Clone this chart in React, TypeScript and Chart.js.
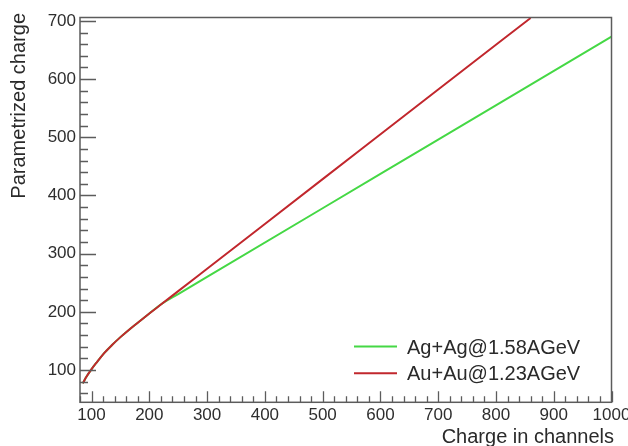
import React, { useEffect, useRef } from "react";
import { Chart, registerables } from "chart.js";

Chart.register(...registerables);

// Shared low-charge part (both systems coincide)
const commonX = [85, 90, 100, 110, 120, 135, 150, 165, 180, 200, 220];
const commonY = [77, 86.5, 101.5, 114.5, 127, 142.5, 156.5, 169.3, 181.3, 197.1, 212.5];
// Ag+Ag branch
const agX = [250, 300, 500, 700, 1000];
const agY = [230.5, 260, 378, 496, 673];
// Au+Au branch
const auX = [250, 300, 500, 700, 860];
const auY = [235.5, 274, 428, 582, 705];

const seriesLabels = ["Ag+Ag@1.58AGeV", "Au+Au@1.23AGeV"];
const seriesColors = ["#45d845", "#c1272d"];

const xTicks = [100, 200, 300, 400, 500, 600, 700, 800, 900, 1000];
const yTicks = [100, 200, 300, 400, 500, 600, 700];

const xTitle = "Charge in channels";
const yTitle = "Parametrized charge";

const FONT = "'Liberation Sans', Arial, Helvetica, sans-serif";

function toPoints(xs: number[], ys: number[]) {
  return xs.map((x, i) => ({ x, y: ys[i] }));
}

const rootDecor = {
  id: "rootDecor",
  afterDatasetsDraw(chart: any) {
    const { ctx, chartArea: a, scales } = chart;
    const xs = scales.x;
    const ys = scales.y;
    ctx.save();
    ctx.strokeStyle = "#5c5c5c";
    ctx.lineWidth = 1.5;
    ctx.strokeRect(a.left, a.top, a.right - a.left, a.bottom - a.top);
    ctx.lineWidth = 1.3;
    ctx.beginPath();
    for (let v = Math.ceil(xs.min / 20) * 20; v <= xs.max + 0.001; v += 20) {
      const px = Math.round(xs.getPixelForValue(v)) + 0.5;
      const len = v % 100 === 0 ? 11 : 6;
      ctx.moveTo(px, a.bottom);
      ctx.lineTo(px, a.bottom - len);
    }
    for (let v = Math.ceil(ys.min / 20) * 20; v <= ys.max + 0.001; v += 20) {
      const py = Math.round(ys.getPixelForValue(v)) + 0.5;
      const len = v % 100 === 0 ? 16 : 8;
      ctx.moveTo(a.left, py);
      ctx.lineTo(a.left + len, py);
    }
    ctx.stroke();
    ctx.restore();
  },
  afterDraw(chart: any) {
    const { ctx } = chart;
    ctx.save();
    // legend
    chart.data.datasets.forEach((ds: any, i: number) => {
      const ly = 346.5 + i * 26.8;
      ctx.strokeStyle = ds.borderColor;
      ctx.lineWidth = 2;
      ctx.beginPath();
      ctx.moveTo(354, ly);
      ctx.lineTo(397, ly);
      ctx.stroke();
      ctx.fillStyle = "#2a2a2a";
      ctx.font = `20px ${FONT}`;
      ctx.textAlign = "left";
      ctx.textBaseline = "alphabetic";
      ctx.fillText(ds.label, 407, ly + 7);
    });
    // axis titles
    ctx.fillStyle = "#2a2a2a";
    ctx.font = `20px ${FONT}`;
    ctx.textAlign = "right";
    ctx.textBaseline = "alphabetic";
    ctx.fillText(xTitle, 614, 442.5);
    ctx.translate(25, 13);
    ctx.rotate(-Math.PI / 2);
    ctx.fillText(yTitle, 0, 0);
    ctx.restore();
  },
};

export default function App() {
  const ref = useRef<HTMLCanvasElement>(null);
  useEffect(() => {
    if (!ref.current) return;
    const chart = new Chart(ref.current, {
      type: "line",
      data: {
        datasets: [
          {
            label: seriesLabels[0],
            data: toPoints(commonX.concat(agX), commonY.concat(agY)),
            borderColor: seriesColors[0],
            backgroundColor: seriesColors[0],
            borderWidth: 2,
            pointRadius: 0,
            cubicInterpolationMode: "monotone",
            order: 2,
          },
          {
            label: seriesLabels[1],
            data: toPoints(commonX.concat(auX), commonY.concat(auY)),
            borderColor: seriesColors[1],
            backgroundColor: seriesColors[1],
            borderWidth: 2,
            pointRadius: 0,
            cubicInterpolationMode: "monotone",
            order: 1,
          },
        ],
      },
      options: {
        responsive: false,
        animation: false,
        events: [],
        layout: { padding: { top: 17.5, right: 16.5, left: 0, bottom: 0 } },
        plugins: { legend: { display: false }, tooltip: { enabled: false }, title: { display: false } },
        scales: {
          x: {
            type: "linear",
            min: 80,
            max: 1000,
            afterBuildTicks: (s: any) => {
              s.ticks = xTicks.map((v) => ({ value: v }));
            },
            afterFit: (s: any) => {
              s.height = 43.7;
              s.paddingLeft = 0;
              s.paddingRight = 0;
            },
            grid: { display: false, drawTicks: false },
            border: { display: false },
            ticks: {
              autoSkip: false,
              maxRotation: 0,
              padding: 3,
              color: "#2e2e2e",
              font: { family: FONT, size: 17 },
              callback: (v: any) => String(v),
            },
          },
          y: {
            type: "linear",
            min: 44.5,
            max: 705.8,
            afterBuildTicks: (s: any) => {
              s.ticks = yTicks.map((v) => ({ value: v }));
            },
            afterFit: (s: any) => {
              s.width = 80;
              s.paddingTop = 0;
              s.paddingBottom = 0;
            },
            grid: { display: false, drawTicks: false },
            border: { display: false },
            ticks: {
              autoSkip: false,
              padding: 4,
              color: "#2e2e2e",
              font: { family: FONT, size: 17 },
              callback: (v: any) => String(v),
            },
          },
        },
      },
      plugins: [rootDecor],
    } as any);
    return () => chart.destroy();
  }, []);
  return (
    <div style={{ position: "fixed", left: 0, top: 0, width: 628, height: 446, background: "#fff" }}>
      <canvas ref={ref} width={628} height={446} style={{ display: "block" }} />
    </div>
  );
}
